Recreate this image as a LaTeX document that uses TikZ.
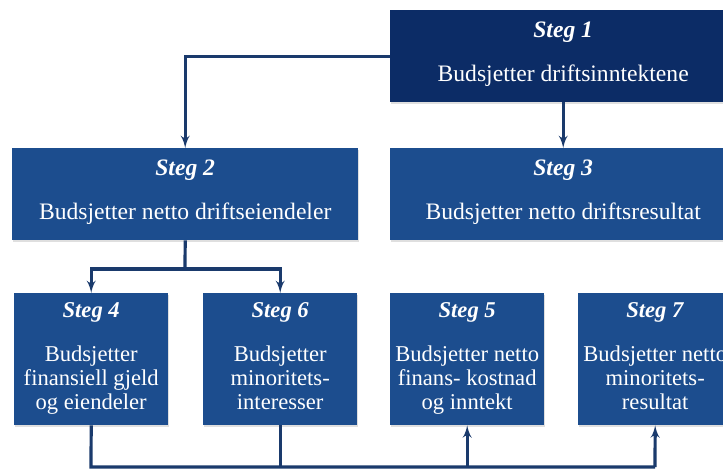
\documentclass[tikz,border=0pt]{standalone}
\usepackage{fontspec}
\setmainfont{Liberation Serif}
\usetikzlibrary{shapes,arrows,shadows}
\definecolor{navy}{HTML}{0C2C66}
\definecolor{stegblue}{HTML}{1C4D8E}
\definecolor{wireblue}{HTML}{1A3A6C}
\tikzstyle{block} = [rectangle, fill=stegblue, text=white, text centered, align=center, anchor=north west, inner sep=0pt, drop shadow={shadow xshift=1.2pt, shadow yshift=-1.8pt, opacity=0.25}]
\tikzstyle{wide} = [block, minimum width=346pt, minimum height=92pt, font=\fontsize{23.6}{27}\selectfont]
\tikzstyle{small} = [block, minimum width=154pt, minimum height=132pt, font=\fontsize{22.6}{24}\selectfont]
\tikzstyle{wire} = [draw=wireblue, line width=3.2pt]
\tikzstyle{line} = [wire, -latex']

\begin{document}
\begin{tikzpicture}[x=1pt, y=-1pt]
		\useasboundingbox (0,0) rectangle (723,470);
		\node [wide, fill=navy] (s1) at (390,10) {\textbf{\textit{Steg 1}}\\[17pt]Budsjetter driftsinntektene\strut};
		\node [wide] (s2) at (12,148) {\textbf{\textit{Steg 2}}\\[17pt]Budsjetter netto driftseiendeler\strut};
		\node [wide] (s3) at (390,148) {\textbf{\textit{Steg 3}}\\[17pt]Budsjetter netto driftsresultat\strut};
		\node [small] (s4) at (14,293) {\textbf{\textit{Steg 4}}\\[20pt]Budsjetter\\finansiell gjeld\\og eiendeler\strut};
		\node [small] (s6) at (203,293) {\textbf{\textit{Steg 6}}\\[20pt]Budsjetter\\minoritets-\\interesser\strut};
		\node [small] (s5) at (390,293) {\textbf{\textit{Steg 5}}\\[20pt]Budsjetter netto\\finans- kostnad\\og inntekt\strut};
		\node [small] (s7) at (578,293) {\textbf{\textit{Steg 7}}\\[20pt]Budsjetter netto\\minoritets-\\resultat\strut};

		\coordinate (split) at (185,269);
		\coordinate (busL) at (91,467);
		\coordinate (busR) at (655,467);

		\path [line] (s1.west) -| (s2.north);
		\path [line] (s1.south) -- (s3.north);
		\path [wire] (s2.south) -- (split);
		\path [line] (split) -| (s4.north);
		\path [line] (split) -| (s6.north);
		\path [wire] (s4.south) -- (busL) -- (busR);
		\path [wire] (s6.south) -- (s6.south |- busL);
		\path [line] (s5.south |- busL) -- (s5.south);
		\path [line] (busR) -- (s7.south);
	\end{tikzpicture}
\end{document}
